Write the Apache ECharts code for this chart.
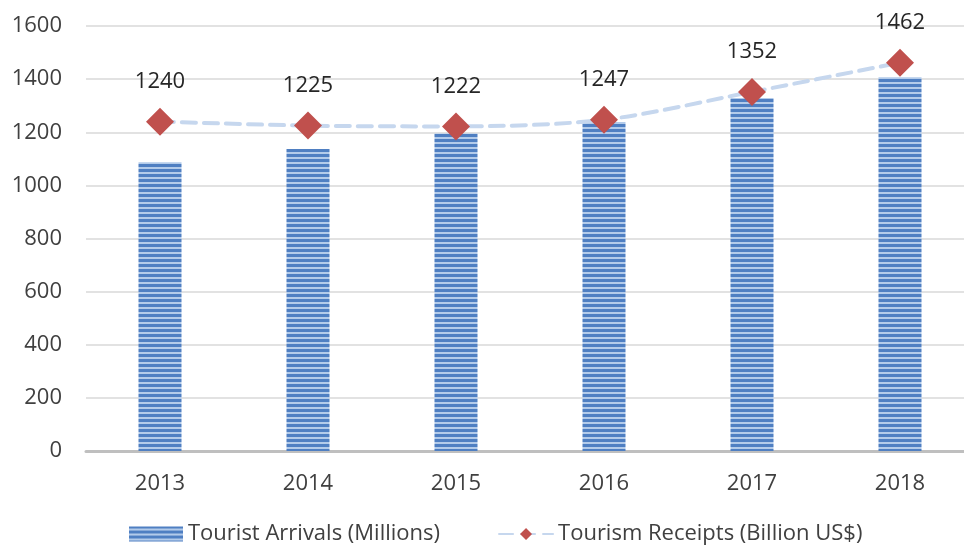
<!DOCTYPE html>
<html lang="en">
<head>
  <meta charset="UTF-8">
  <title>Tourist Arrivals and Receipts</title>
  <script src="https://cdn.jsdelivr.net/npm/echarts@6/dist/echarts.min.js"></script>
  <style>
    html, body { margin: 0; padding: 0; background: #fff; overflow: hidden; }
    #chart { width: 980px; height: 545px; }
  </style>
</head>
<body>
  <div id="chart"></div>
<script>
  const years = ['2013', '2014', '2015', '2016', '2017', '2018'];
  const arrivals = [1087, 1137, 1195, 1239, 1329, 1407];
  const receipts = [1240, 1225, 1222, 1247, 1352, 1462];
  const yTicks = [0, 200, 400, 600, 800, 1000, 1200, 1400, 1600];

  // horizontal stripes for the bars
  const stripe = document.createElement('canvas');
  stripe.width = 4;
  stripe.height = 5;
  const ctx = stripe.getContext('2d');
  ctx.fillStyle = '#4f7fc2';
  ctx.fillRect(0, 0, 4, 5);
  ctx.fillStyle = '#b3cbea';
  ctx.fillRect(0, 2, 4, 2);

  const font = '"Open Sans", "Noto Sans", sans-serif';
  const chart = echarts.init(document.getElementById('chart'));
  chart.setOption({
    animation: false,
    textStyle: { fontFamily: font },
    // plot area runs a little past the right edge of the picture, as in the original
    grid: { left: 86, top: 26, width: 888, height: 425 },
    legend: {
      top: 518,
      left: 124,
      itemGap: 58,
      itemWidth: 54,
      itemHeight: 15,
      textStyle: { fontSize: 22, color: '#404040', fontFamily: font },
      data: [
        { name: 'Tourist Arrivals (Millions)', icon: 'rect' },
        { name: 'Tourism Receipts (Billion US$)' }
      ]
    },
    xAxis: {
      type: 'category',
      data: years,
      axisLine: { lineStyle: { color: '#bfbfbf', width: 3 } },
      axisTick: { show: false },
      axisLabel: { color: '#404040', fontSize: 22, margin: 22 }
    },
    yAxis: {
      type: 'value',
      min: 0,
      max: 1600,
      interval: 200,
      axisLine: { show: false },
      axisTick: { show: false },
      axisLabel: {
        color: '#404040', fontSize: 22, margin: 24,
        formatter: v => yTicks.includes(v) ? String(v) : ''
      },
      splitLine: { lineStyle: { color: '#d9d9d9', width: 1.5 } }
    },
    series: [
      {
        name: 'Tourist Arrivals (Millions)',
        type: 'bar',
        data: arrivals,
        barWidth: 43,
        itemStyle: { color: { image: stripe, repeat: 'repeat' } }
      },
      {
        name: 'Tourism Receipts (Billion US$)',
        type: 'line',
        data: receipts,
        smooth: 0.3,
        symbol: 'diamond',
        symbolSize: 28,
        lineStyle: { color: '#c6d7ee', width: 4, type: [14, 8], cap: 'round' },
        itemStyle: { color: '#c0504d' },
        label: {
          show: true,
          position: 'top',
          distance: 15,
          color: '#262626',
          fontSize: 22
        }
      }
    ]
  });
</script>
</body>
</html>
